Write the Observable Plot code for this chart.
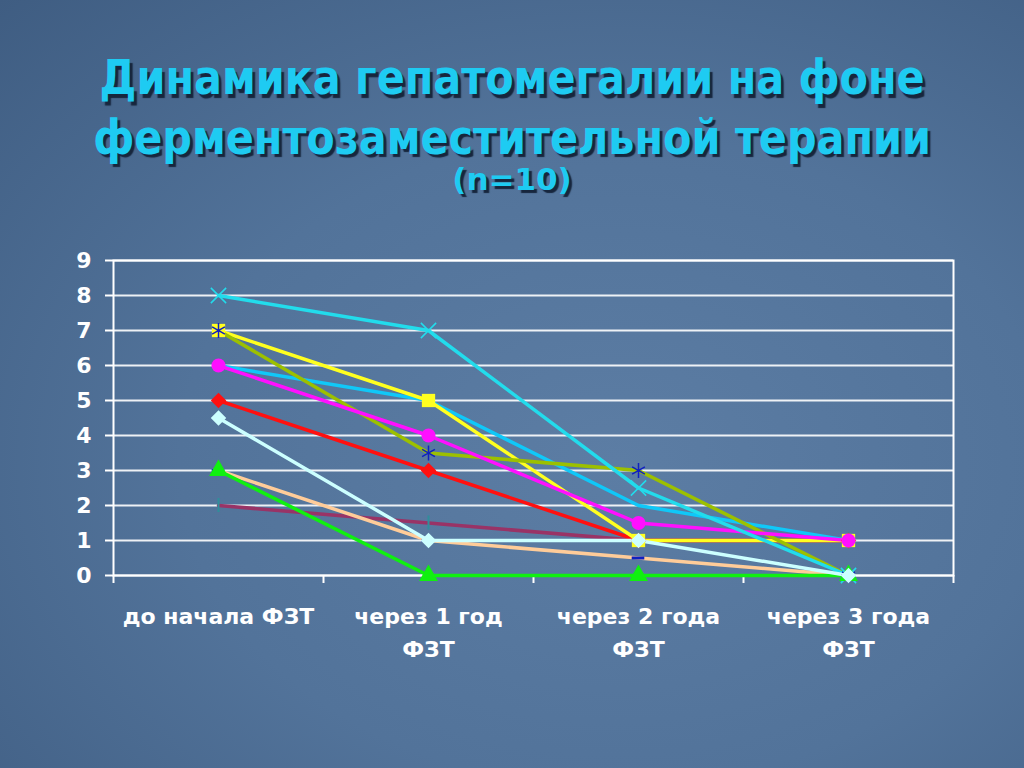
<!DOCTYPE html>
<html><head><meta charset="utf-8">
<script src="https://cdn.jsdelivr.net/npm/d3@7"></script>
<script src="https://cdn.jsdelivr.net/npm/@observablehq/plot@0.6"></script>
<style>
html,body{margin:0;padding:0;background:#4d6d93;}
#slide{position:relative;width:1024px;height:768px;overflow:hidden;
  background:radial-gradient(ellipse at 60% 60%, #5c7da4 0%, #52739a 50%, #3f5d82 100%);
  font-family:"DejaVu Sans",Verdana,sans-serif;}
#title{position:absolute;left:0;top:48px;width:1024px;text-align:center;color:#1ecbf2;
  font-weight:bold;font-size:44px;line-height:55px;text-shadow:3px 3px 1px #17263d;
  transform:scale(0.94,1.08);transform-origin:514px 0;}
#sub{position:absolute;left:0;top:161px;width:1024px;text-align:center;color:#1ecbf2;
  font-weight:bold;font-size:31px;text-shadow:3px 3px 1px #17263d;}
#chart{position:absolute;left:0;top:240px;}
</style></head>
<body>
<div id="slide">
  <div id="title">Динамика гепатомегалии на фоне<br>ферментозаместительной терапии</div>
  <div id="sub">(n=10)</div>
  <div id="chart"></div>
</div>
<script>
const categories = ["до начала ФЗТ", "через 1 год\nФЗТ", "через 2 года\nФЗТ", "через 3 года\nФЗТ"];
const yTicks = [0,1,2,3,4,5,6,7,8,9];

const patient1 = [5, 3, 1, 1];      // red, diamonds
const patient2 = [4.5, 1, 1, 0];    // light cyan, diamonds
const patient3 = [3, 0, 0, 0];      // green, triangles
const patient4 = [3, 1, 0.5, 0];    // peach, blue dash
const patient5 = [2, 1.5, 1, 1];    // maroon, teal tick
const patient6 = [6, 5, 2, 1];      // sky blue
const patient7 = [7, 3.5, 3, 0];    // olive, blue asterisk
const patient8 = [8, 7, 2.5, 0];    // cyan, x
const patient9 = [6, 4, 1.5, 1];    // magenta, circles
const patient10 = [7, 5, 1, 1];     // yellow, squares

const seriesList = [
  {values: patient5, color: "#993366", marker: "vtick", mcolor: "#2f8f9a"},
  {values: patient4, color: "#ffcc99", marker: "dash", mcolor: "#1020c0"},
  {values: patient1, color: "#ff1010", marker: "diamond2", mcolor: "#ff1010"},
  {values: patient6, color: "#10c8f8", marker: null},
  {values: patient10, color: "#ffff20", marker: "square", mcolor: "#ffff20"},
  {values: patient7, color: "#9cc000", marker: "asterisk", mcolor: "#1020c0"},
  {values: patient9, color: "#ff10ff", marker: "circle", mcolor: "#ff10ff"},
  {values: patient8, color: "#22dcec", marker: "times", mcolor: "#22dcec"},
  {values: patient3, color: "#10f010", marker: "triangle", mcolor: "#10f010"},
  {values: patient2, color: "#ccffff", marker: "diamond2", mcolor: "#ccffff"}
];

const marks = [
  Plot.ruleY(yTicks, {stroke: "white", strokeWidth: 2, strokeOpacity: 0.9}),
  Plot.frame({stroke: "white", strokeWidth: 2}),
  Plot.axisY({ticks: yTicks, tickSize: 8, tickPadding: 14, fontSize: 22, fontWeight: "bold", strokeWidth: 2, label: null}),
  Plot.axisX({ticks: [0,1,2,3,4], tickSize: 8, tickFormat: () => "", strokeWidth: 2, label: null}),
  Plot.text(categories, {x: (d, i) => i + 0.5, y: 0, text: d => d, dy: 25, lineAnchor: "top",
    fontSize: 22, fontWeight: "bold", lineHeight: 1.5, fill: "white"})
];

for (const s of seriesList) {
  const pts = s.values.map((v, i) => ({x: i + 0.5, y: v}));
  marks.push(Plot.line(pts, {x: "x", y: "y", stroke: s.color, strokeWidth: 3.5}));
}
for (const s of seriesList) {
  const pts = s.values.map((v, i) => ({x: i + 0.5, y: v}));
  if (!s.marker) continue;
  if (s.marker === "vtick") {
    marks.push(Plot.ruleX(pts, {x: "x", y1: d => d.y - 0.2, y2: d => d.y + 0.2, stroke: s.mcolor, strokeWidth: 2}));
  } else if (s.marker === "dash") {
    marks.push(Plot.ruleY(pts, {y: "y", x1: d => d.x - 0.03, x2: d => d.x + 0.03, stroke: s.mcolor, strokeWidth: 3}));
  } else if (s.marker === "times" || s.marker === "asterisk") {
    marks.push(Plot.dot(pts, {x: "x", y: "y", symbol: s.marker, r: 7, stroke: s.mcolor, strokeWidth: 1.5}));
  } else {
    marks.push(Plot.dot(pts, {x: "x", y: "y", symbol: s.marker, r: s.marker === "square" ? 7.5 : 7, fill: s.mcolor, stroke: "none"}));
  }
}

const chart = Plot.plot({
  width: 1024,
  height: 425,
  marginLeft: 113,
  marginRight: 71,
  marginTop: 20,
  marginBottom: 90,
  x: {type: "linear", domain: [0, 4], axis: null},
  y: {domain: [0, 9], axis: null},
  style: {background: "transparent", color: "white", fontFamily: "DejaVu Sans, Verdana, sans-serif", overflow: "visible"},
  marks
});
document.getElementById("chart").appendChild(chart);
</script>
</body></html>
